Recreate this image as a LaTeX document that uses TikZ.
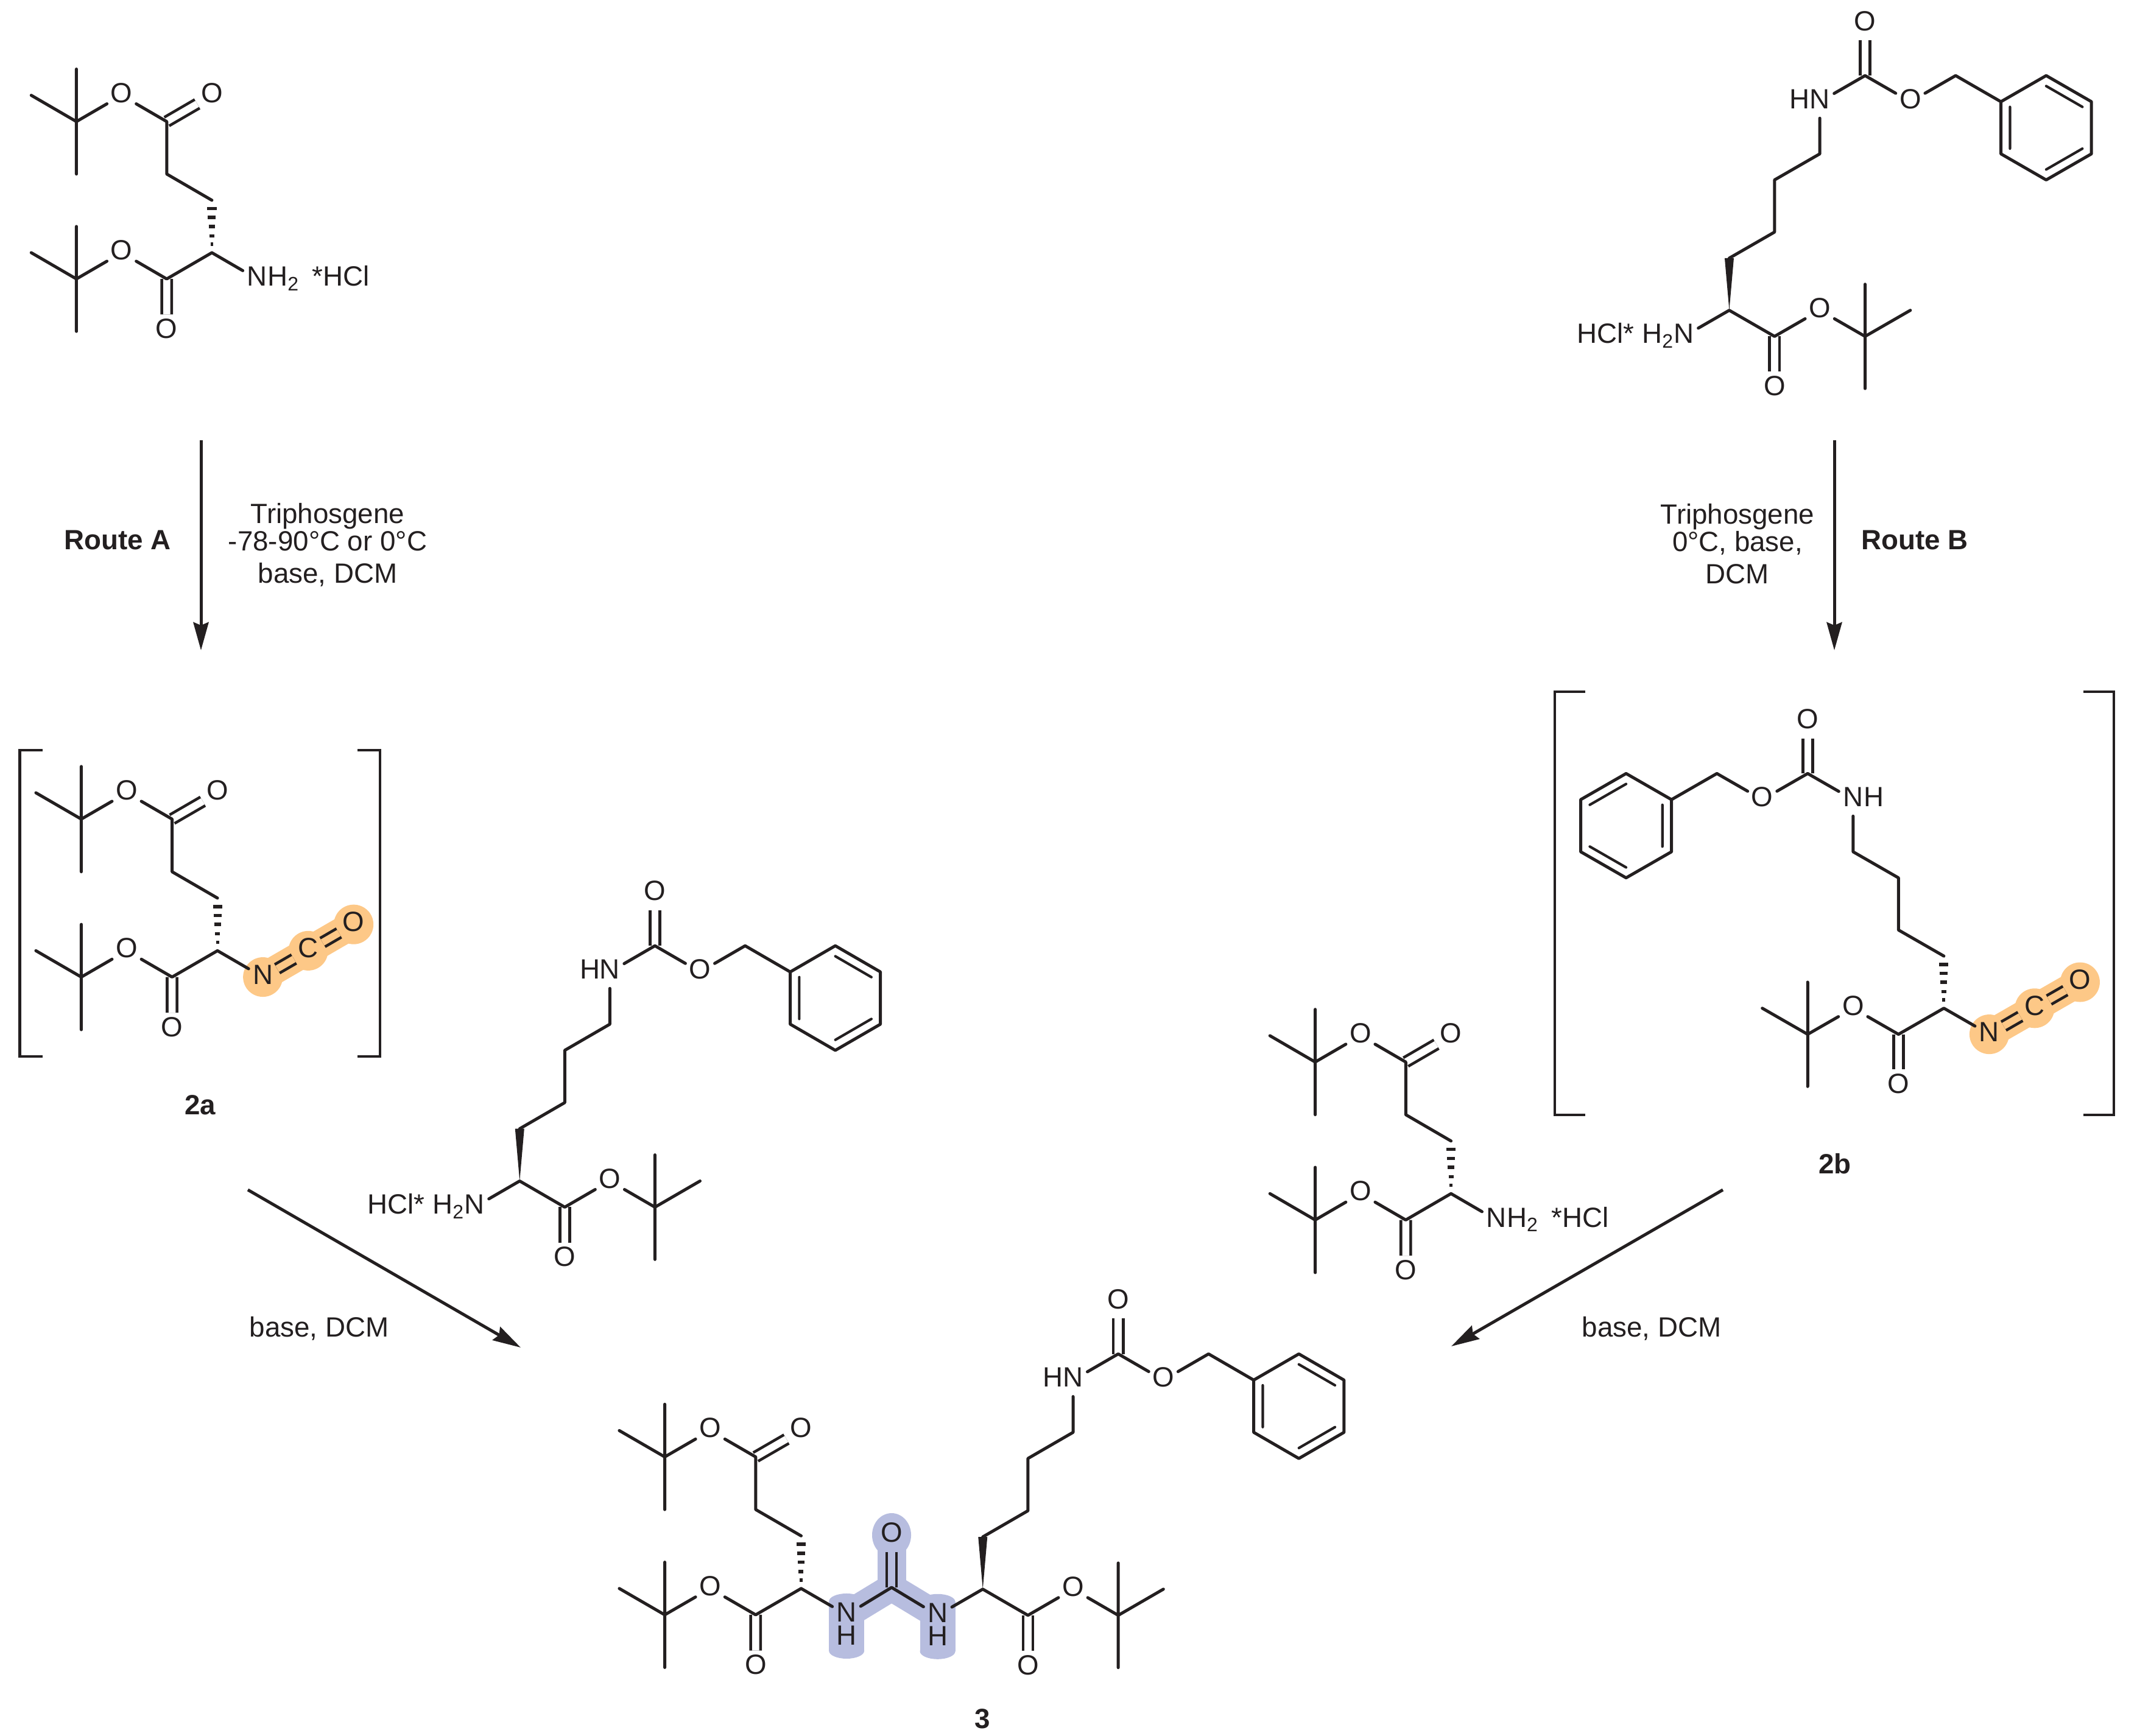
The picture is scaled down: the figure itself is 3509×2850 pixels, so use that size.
\documentclass[tikz,border=0pt]{standalone}
\usepackage{fontspec}
\setmainfont{Liberation Sans}
\usepackage{xcolor}
\usetikzlibrary{
    arrows.meta,
    backgrounds,
    calc
}
\definecolor{ink}{RGB}{35,31,32}
\definecolor{hlorange}{RGB}{253,200,135}
\definecolor{hlblue}{RGB}{183,189,223}
\newcommand{\hashbond}[2]{
    \foreach \pos/\wid in {.84/.076,.67/.065,.5/.054,.32/.04,.16/.024}
        \draw[line width=.056cm] ($(#1)!\pos!(#2)+(-\wid cm,0)$) -- ($(#1)!\pos!(#2)+(\wid cm,0)$);
}
\newcommand{\wedgebond}[2]{
    \fill ($(#2)+(-.075cm,0)$) -- ($(#2)+(.075cm,0)$) -- (#1) -- cycle;
}
\newcommand{\isocyanate}[3]{
    \node[atom] (#1-c) at ($(#1-n)+(#2,#3)$) {C};
    \node[atom] (#1-o) at ($(#1-n)+(2*#2,2*#3)$) {O};
    \begin{scope}[on background layer]
        \draw[line width=.46cm, hlorange] (#1-n.center) -- (#1-o.center);
        \foreach \part in {n,c,o}
            \fill[hlorange] (#1-\part) circle (.325cm);
    \end{scope}
    \draw[dbl, double=hlorange] (#1-n) -- (#1-c) (#1-c) -- (#1-o);
}
\newcommand{\amideblob}[1]{
    \fill[hlblue] ($(#1)+(-29, -22)$) rectangle ($(#1)+(29, 59)$);
    \fill[hlblue] ($(#1)+(0, -22)$) ellipse [x radius=.29cm, y radius=.13cm];
    \fill[hlblue] ($(#1)+(0, 59)$) ellipse [x radius=.29cm, y radius=.13cm];
}
\tikzset{
    txt/.style={font=\fontsize{13}{15}\selectfont, inner sep=0pt},
    atom/.style={txt, circle, outer sep=0pt, minimum size=.54cm, text height=.33cm, text depth=.1cm},
    rlab/.style={txt, anchor=base west, xshift=.165cm, yshift=-.115cm},
    llab/.style={txt, anchor=base east, xshift=-.155cm, yshift=-.115cm},
    bond/.style={line width=.05cm, line cap=round, line join=round},
    ring/.style={line width=.042cm, line cap=round},
    dbl/.style={line width=.046cm, double, double distance=.115cm},
    brk/.style={line width=.046cm},
    rxn/.style={line width=.05cm, -{Stealth[length=.46cm, width=.25cm, inset=.05cm]}},
    gluester/.pic={
        \coordinate (tb1) at (1, 2);
        \coordinate (me1) at (1, 0);
        \coordinate (me2) at (1, 4);
        \coordinate (me3) at (0, 1);
        \node[atom] (o1) at (2, 1) {O};
        \coordinate (c1) at (3, 2);
        \node[atom] (o2) at (4, 1) {O};
        \coordinate (ch1) at (3, 4);
        \coordinate (ch2) at (4, 5);
        \coordinate (st) at (4, 7);
        \node[atom] (n) at (5, 8) {N};
        \coordinate (c2) at (3, 8);
        \node[atom] (o3) at (2, 7) {O};
        \node[atom] (o4) at (3, 10) {O};
        \coordinate (tb2) at (1, 8);
        \coordinate (me4) at (1, 6);
        \coordinate (me5) at (1, 10);
        \coordinate (me6) at (0, 7);
        \draw[dbl] (c1) -- (o2) (c2) -- (o4);
        \draw[bond]
        (me1) -- (me2)
        (me3) -- (tb1) -- (o1)
        (o1) -- (c1) -- (ch1) -- (ch2)
        (st) -- (n)
        (st) -- (c2) -- (o3)
        (o3) -- (tb2) -- (me6)
        (me4) -- (me5);
        \hashbond{st}{ch2}
    },
    lysester/.pic={
        \node[atom] (n) at (0, 12) {N};
        \coordinate (st) at (1, 11);
        \coordinate (ch1) at (1, 9);
        \coordinate (ch2) at (2, 8);
        \coordinate (ch3) at (2, 6);
        \coordinate (ch4) at (3, 5);
        \node[atom] (nh) at (3, 3) {N};
        \coordinate (cb) at (4, 2);
        \node[atom] (o1) at (4, 0) {O};
        \node[atom] (o2) at (5, 3) {O};
        \coordinate (bn) at (6, 2);
        \coordinate (r1) at (7, 3);
        \coordinate (r2) at (8, 2);
        \coordinate (r3) at (9, 3);
        \coordinate (r4) at (9, 5);
        \coordinate (r5) at (8, 6);
        \coordinate (r6) at (7, 5);
        \coordinate (rc) at (8, 4);
        \coordinate (c2) at (2, 12);
        \node[atom] (o3) at (2, 14) {O};
        \node[atom] (o4) at (3, 11) {O};
        \coordinate (tb) at (4, 12);
        \coordinate (me1) at (4, 10);
        \coordinate (me2) at (4, 14);
        \coordinate (me3) at (5, 11);
        \draw[dbl] (cb) -- (o1) (c2) -- (o3);
        \draw[bond]
        (n) -- (st) -- (c2) -- (o4)
        (o4) -- (tb) -- (me3)
        (me1) -- (me2)
        (ch1) -- (ch2) -- (ch3) -- (ch4) -- (nh)
        (nh) -- (cb) -- (o2)
        (o2) -- (bn) -- (r1) -- (r2) -- (r3) -- (r4) -- (r5) -- (r6) -- (r1);
        \draw[ring]
        ($(r1)!.2!(rc)$) -- ($(r6)!.2!(rc)$)
        ($(r2)!.2!(rc)$) -- ($(r3)!.2!(rc)$)
        ($(r4)!.2!(rc)$) -- ($(r5)!.2!(rc)$);
    }
}
\begin{document}
\begin{tikzpicture}[x=.01cm, y=-.01cm, color=ink]
    \useasboundingbox (0, 0) rectangle (3509, 2850);

    \pic (g1-) at (.513cm, -1.134cm) [x=.741cm, y=-.4305cm] {gluester};
    \node[rlab] (g1-salt) at (g1-n) {H\textsubscript{2}\hspace{.08cm} *HCl};

    \pic (l1-) at (27.635cm, -.385cm) [x=.743cm, y=-.428cm] {lysester};
    \wedgebond{l1-st}{l1-ch1}
    \node[llab] (l1-hn) at (l1-nh) {H};
    \node[llab] (l1-salt) at (l1-n) {HCl* H\textsubscript{2}};

    \pic (ga-) at (.589cm, -12.58cm) [x=.745cm, y=-.432cm] {gluester};
    \isocyanate{ga}{74.5}{-43.2}
    \draw[brk] (70, 1232) -- (32.6, 1232) -- (32.6, 1735) -- (70, 1735);
    \draw[brk] (587, 1232) -- (624, 1232) -- (624, 1735) -- (587, 1735);
    \node[txt] (lab2a) at (329, 1815) {\bfseries 2a};

    \pic (lb-) at (32.645cm, -11.84cm) [x=-.745cm, y=-.428cm] {lysester};
    \hashbond{lb-st}{lb-ch1}
    \isocyanate{lb}{74.5}{-42.8}
    \node[rlab] (lb-hn) at (lb-nh) {H};
    \draw[brk] (2603, 1136) -- (2553, 1136) -- (2553, 1831) -- (2603, 1831);
    \draw[brk] (3421, 1136) -- (3471, 1136) -- (3471, 1831) -- (3421, 1831);
    \node[txt] (lab2b) at (3013, 1911) {\bfseries 2b};

    \pic (l2-) at (7.788cm, -14.665cm) [x=.74cm, y=-.429cm] {lysester};
    \wedgebond{l2-st}{l2-ch1}
    \node[llab] (l2-hn) at (l2-nh) {H};
    \node[llab] (l2-salt) at (l2-n) {HCl* H\textsubscript{2}};

    \pic (g2-) at (20.84cm, -16.567cm) [x=.743cm, y=-.432cm] {gluester};
    \node[rlab] (g2-salt) at (g2-n) {H\textsubscript{2}\hspace{.08cm} *HCl};

    \pic (g3-) at (10.163cm, -23.048cm) [x=.746cm, y=-.432cm] {gluester};
    \pic (l3-) at (15.387cm, -21.364cm) [x=.741cm, y=-.429cm] {lysester};
    \wedgebond{l3-st}{l3-ch1}
    \node[llab] (l3-hn) at (l3-nh) {H};
    \coordinate (ur) at (1464, 2607);
    \node[atom] (ur-o) at (1464, 2521) {O};
    \node[atom] (g3-h) at ($(g3-n)+(0, 38)$) {H};
    \node[atom] (l3-h) at ($(l3-n)+(0, 38)$) {H};
    \begin{scope}[on background layer]
        \amideblob{g3-n}
        \amideblob{l3-n}
        \draw[line width=.45cm, hlblue] (g3-n.center) -- (ur) -- (l3-n.center);
        \draw[line width=.47cm, hlblue] (ur) -- (ur-o.center);
        \fill[hlblue] (ur-o) ellipse [x radius=.32cm, y radius=.36cm];
    \end{scope}
    \draw[dbl, double=hlblue] (ur) -- (ur-o);
    \draw[bond] (g3-n) -- (ur) -- (l3-n);
    \node[txt] (lab3) at (1613, 2823) {\bfseries 3};

    \coordinate (ra1) at (330, 723);
    \coordinate (ra2) at (330, 1068);
    \coordinate (rb1) at (3012, 723);
    \coordinate (rb2) at (3012, 1068);
    \coordinate (da1) at (407, 1954);
    \coordinate (da2) at (855, 2213);
    \coordinate (db1) at (2829, 1954);
    \coordinate (db2) at (2383, 2211);
    \draw[rxn] (ra1) -- (ra2);
    \draw[rxn] (rb1) -- (rb2);
    \draw[rxn] (da1) -- (da2);
    \draw[rxn] (db1) -- (db2);
    \node[txt] (routea) at (193, 887) {\bfseries Route A};
    \node[txt] (routeb) at (3144, 887) {\bfseries Route B};
    \node[txt, align=center] (conda) at (538, 895) {Triphosgene\\[-.08cm]-78-90°C or 0°C\\base, DCM};
    \node[txt, align=center] (condb) at (2853, 893) {Triphosgene\\[-.08cm]0°C, base,\\DCM};
    \node[txt] (baseL) at (524, 2182) {base, DCM};
    \node[txt] (baseR) at (2712, 2182) {base, DCM};
\end{tikzpicture}
\end{document}
